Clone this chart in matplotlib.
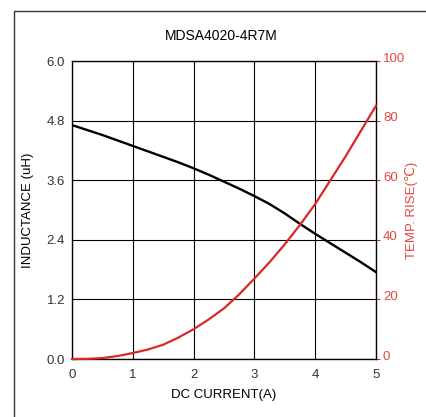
import matplotlib.pyplot as plt
import matplotlib.transforms as mtransforms
from matplotlib.patches import Rectangle

plt.rcParams['font.family'] = ['Liberation Sans', 'DejaVu Sans']

# data
current = [0, 0.25, 0.5, 0.75, 1, 1.25, 1.5, 1.75, 2, 2.25, 2.5,
           2.75, 3, 3.25, 3.5, 3.75, 4, 4.25, 4.5, 4.75, 5]
inductance = [4.71, 4.61, 4.51, 4.40, 4.29, 4.18, 4.07, 3.96, 3.84, 3.71, 3.57,
              3.43, 3.28, 3.12, 2.93, 2.72, 2.52, 2.33, 2.14, 1.95, 1.75]
temp_rise = [0, 0.05, 0.3, 1.0, 2.0, 3.2, 4.8, 7.2, 10, 13.3, 17,
             21.7, 27, 32.5, 38.5, 45, 52, 60, 68, 76.5, 85]

x_ticks = [0, 1, 2, 3, 4, 5]
l_ticks = [0.0, 1.2, 2.4, 3.6, 4.8, 6.0]
t_ticks = [0, 20, 40, 60, 80, 100]

red = '#d8282a'
red_txt = '#e4473f'
dark = '#333333'

fig = plt.figure(figsize=(4.27, 4.17), dpi=100)
fig.patches.append(Rectangle((14 / 427, -0.1), 1.0, 0.1 + 406 / 417,
                             transform=fig.transFigure, fill=False,
                             edgecolor='#3a3333', lw=1.0, clip_on=False))

ax = fig.add_axes([72 / 427, 1 - 359 / 417, 304 / 427, 298 / 417])
ax.plot(current, inductance, color='black', lw=1.7, zorder=3)
ax.set_xlim(0, 5)
ax.set_ylim(0, 6.0)
ax.set_xticks(x_ticks)
ax.set_yticks(l_ticks)
ax.set_yticklabels(['%.1f' % v for v in l_ticks])
ax.grid(True, color='black', lw=0.8)
ax.tick_params(axis='y', length=0, labelsize=9.5, labelcolor=dark, pad=5)
ax.tick_params(axis='x', length=0, labelsize=9.5, labelcolor=dark, pad=7)
for s in ax.spines.values():
    s.set_linewidth(0.9)
ax.set_xlabel('DC CURRENT(A)', fontsize=9.5, labelpad=6)
ax.set_ylabel('INDUCTANCE (uH)', fontsize=9.5, labelpad=9)
fig.text(221 / 427, 1 - 36 / 417, 'MDSA4020-4R7M', ha='center', va='center', fontsize=10)

ax2 = ax.twinx()
ax2.plot(current, temp_rise, color=red, lw=1.6, clip_on=False, zorder=3)
ax2.set_ylim(0, 100)
ax2.set_yticks(t_ticks)
ax2.tick_params(axis='y', colors=red, labelcolor=red_txt, length=3, labelsize=9.5, pad=2)
ax2.set_ylabel('TEMP. RISE(℃)', color=red_txt, fontsize=9.5, labelpad=0)
off = mtransforms.ScaledTranslation(0, 4 / 100, fig.dpi_scale_trans)
for lab in ax2.get_yticklabels():
    lab.set_transform(lab.get_transform() + off)

fig.savefig('out.png', dpi=100)
